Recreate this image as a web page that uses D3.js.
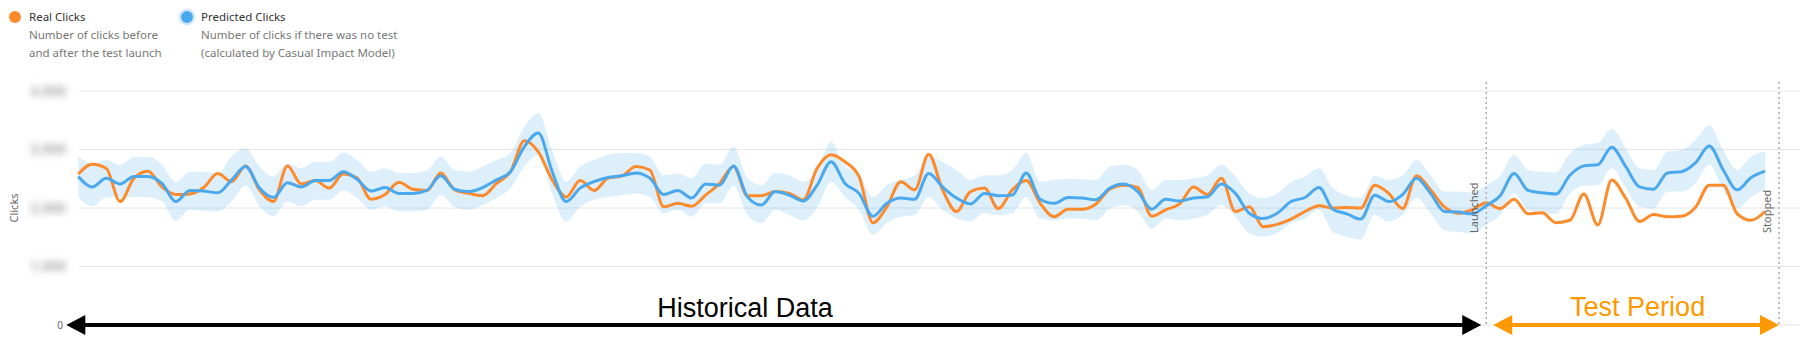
<!DOCTYPE html>
<html>
<head>
<meta charset="utf-8">
<script src="https://d3js.org/d3.v7.min.js"></script>
<style>
  body { margin: 0; background: #fff; }
  svg text { font-family: "Noto Sans", "Open Sans", sans-serif; }
</style>
</head>
<body>
<div id="chart"></div>
<script>
// data (one point per day)
var realClicks = [
  258, 275, 268, 211, 251, 263, 236, 223, 224, 235,
  259, 245, 272, 231, 211, 272, 241, 247, 234, 258,
  251, 215, 223, 244, 232, 230, 260, 231, 225, 221,
  242, 262, 315, 296, 248, 219, 247, 230, 251, 255,
  271, 265, 202, 208, 203, 222, 242, 271, 221, 221,
  228, 225, 214, 268, 291, 279, 254, 175, 202, 245,
  231, 292, 231, 194, 228, 234, 199, 231, 247, 208,
  185, 198, 198, 207, 232, 239, 235, 186, 197, 207,
  236, 223, 251, 194, 202, 168, 172, 181, 194, 204,
  200, 201, 200, 239, 225, 199, 255, 231, 202, 191,
  197, 209, 199, 215, 190, 192, 175, 179, 224, 171,
  248, 217, 177, 189, 185, 186, 201, 239, 239, 190,
  179, 194
];

var predictedClicks = [
  254, 236, 251, 241, 254, 254, 242, 211, 230, 229,
  226, 248, 271, 234, 218, 243, 236, 247, 247, 262,
  249, 229, 235, 225, 225, 230, 255, 232, 228, 235,
  248, 262, 305, 328, 262, 211, 234, 245, 252, 255,
  260, 251, 223, 230, 217, 241, 239, 272, 219, 205,
  228, 222, 212, 239, 279, 242, 225, 186, 208, 217,
  215, 259, 236, 217, 207, 225, 221, 222, 260, 215,
  208, 218, 217, 214, 234, 241, 228, 198, 215, 212,
  217, 219, 241, 225, 191, 182, 191, 211, 218, 235,
  198, 190, 181, 222, 211, 223, 251, 225, 194, 193,
  190, 204, 221, 259, 230, 226, 224, 256, 272, 274,
  304, 271, 236, 232, 260, 262, 277, 306, 265, 231,
  252, 263
];

var predictedUpper = [
  288, 276, 282, 274, 287, 287, 274, 245, 262, 262,
  259, 288, 302, 271, 254, 276, 268, 279, 279, 295,
  282, 262, 268, 260, 260, 264, 288, 265, 262, 271,
  282, 294, 339, 362, 299, 245, 271, 282, 291, 294,
  294, 288, 256, 259, 251, 276, 274, 305, 251, 239,
  260, 256, 245, 265, 313, 271, 259, 219, 239, 248,
  256, 288, 279, 265, 248, 256, 256, 265, 294, 245,
  248, 250, 249, 248, 271, 274, 265, 231, 248, 248,
  251, 256, 274, 254, 225, 217, 225, 245, 254, 268,
  234, 222, 217, 255, 248, 256, 282, 256, 228, 228,
  226, 239, 255, 291, 265, 262, 261, 293, 308, 311,
  336, 302, 268, 265, 296, 299, 316, 342, 299, 265,
  288, 296
];

var predictedLower = [
  219, 203, 218, 219, 219, 219, 211, 178, 197, 195,
  194, 211, 239, 203, 186, 211, 203, 214, 214, 230,
  217, 197, 203, 194, 194, 197, 222, 202, 197, 205,
  217, 234, 271, 291, 225, 177, 202, 214, 219, 222,
  225, 219, 191, 197, 185, 208, 208, 239, 188, 174,
  197, 188, 179, 200, 245, 219, 197, 154, 174, 185,
  188, 219, 197, 182, 177, 191, 188, 191, 219, 182,
  179, 182, 182, 179, 199, 205, 194, 165, 182, 179,
  182, 188, 205, 185, 157, 151, 157, 174, 182, 197,
  159, 151, 146, 188, 177, 188, 217, 191, 162, 159,
  157, 171, 188, 225, 197, 191, 190, 225, 238, 239,
  268, 234, 202, 199, 228, 228, 242, 274, 231, 199,
  219, 231
];

var yTickValues = [0, 100, 200, 300, 400];
var launchIndex = 101;
var stopIndex = 122;

var colors = {
  real: "#fd8b2b",
  predicted: "#4aa8ee",
  band: "#4aa8ee",
  test: "#ff9900"
};

var svgWidth = 1814;
var svgHeight = 363;

var plotLeft = 79;
var plotRight = 1800;

var svg = d3.select("#chart")
  .append("svg")
  .attr("width", svgWidth)
  .attr("height", svgHeight);

// blur for the hidden tick labels
var defs = svg.append("defs");
defs.append("filter")
  .attr("id", "blurLabel")
  .attr("x", "-50%").attr("y", "-100%")
  .attr("width", "200%").attr("height", "300%")
  .append("feGaussianBlur")
  .attr("stdDeviation", 3.5);

var xScale = d3.scaleLinear()
  .domain([0, stopIndex])
  .range([78.3, 1779]);

var yScale = d3.scaleLinear()
  .domain([0, 400])
  .range([325, 91]);

// gridlines
svg.append("g")
  .selectAll("line")
  .data(yTickValues)
  .enter()
  .append("line")
  .attr("x1", plotLeft)
  .attr("x2", plotRight)
  .attr("y1", d => yScale(d))
  .attr("y2", d => yScale(d))
  .attr("stroke", "#e6e6e6")
  .attr("stroke-width", 1);

// y tick labels (blurred in the original, only 0 is readable)
svg.append("g")
  .selectAll("text")
  .data(yTickValues.filter(d => d > 0))
  .enter()
  .append("text")
  .attr("x", 66)
  .attr("y", d => yScale(d))
  .attr("dy", "0.35em")
  .attr("text-anchor", "end")
  .attr("font-size", 14)
  .attr("font-weight", "bold")
  .attr("fill", "#aaa")
  .attr("filter", "url(#blurLabel)")
  .text(d => d3.format(",")(d * 10));

svg.append("text")
  .attr("x", 63)
  .attr("y", yScale(0))
  .attr("dy", "0.35em")
  .attr("text-anchor", "end")
  .attr("font-size", 10)
  .attr("fill", "#666")
  .text("0");

// axis title
svg.append("text")
  .attr("transform", `translate(18, ${yScale(200)}) rotate(-90)`)
  .attr("text-anchor", "middle")
  .attr("font-size", 11)
  .attr("fill", "#666")
  .text("Clicks");

// prediction band
var band = d3.area()
  .x((d, i) => xScale(i))
  .y0((d, i) => yScale(predictedLower[i]))
  .y1((d, i) => yScale(predictedUpper[i]))
  .curve(d3.curveMonotoneX);

svg.append("path")
  .datum(predictedUpper)
  .attr("d", band)
  .attr("fill", colors.band)
  .attr("fill-opacity", 0.18);

var line = d3.line()
  .x((d, i) => xScale(i))
  .y(d => yScale(d))
  .curve(d3.curveMonotoneX);

svg.append("path")
  .datum(realClicks)
  .attr("d", line)
  .attr("fill", "none")
  .attr("stroke", colors.real)
  .attr("stroke-width", 3)
  .attr("stroke-linejoin", "round");

svg.append("path")
  .datum(predictedClicks)
  .attr("d", line)
  .attr("fill", "none")
  .attr("stroke", colors.predicted)
  .attr("stroke-width", 3)
  .attr("stroke-linejoin", "round");

// launched / stopped markers
var markers = [
  { idx: launchIndex, label: "Launched" },
  { idx: stopIndex, label: "Stopped" }
];

svg.append("g")
  .selectAll("line")
  .data(markers)
  .enter()
  .append("line")
  .attr("x1", d => xScale(d.idx))
  .attr("x2", d => xScale(d.idx))
  .attr("y1", 82)
  .attr("y2", yScale(0))
  .attr("stroke", "#aaa")
  .attr("stroke-width", 1.5)
  .attr("stroke-dasharray", "2,3");

svg.append("g")
  .selectAll("text")
  .data(markers)
  .enter()
  .append("text")
  .attr("transform", d => `translate(${xScale(d.idx) - 8}, 233) rotate(-90)`)
  .attr("font-size", 11)
  .attr("fill", "#666")
  .text(d => d.label);

// period arrows
function drawArrow(x1, x2, y, color) {
  var head = 19, half = 10;
  svg.append("line")
    .attr("x1", x1 + head - 1)
    .attr("x2", x2 - head + 1)
    .attr("y1", y)
    .attr("y2", y)
    .attr("stroke", color)
    .attr("stroke-width", 4);
  svg.append("path")
    .attr("d", `M${x1},${y}L${x1 + head},${y - half}L${x1 + head},${y + half}Z`)
    .attr("fill", color);
  svg.append("path")
    .attr("d", `M${x2},${y}L${x2 - head},${y - half}L${x2 - head},${y + half}Z`)
    .attr("fill", color);
}

var arrowY = yScale(0);
drawArrow(xScale(0) - 12, xScale(launchIndex) - 5, arrowY, "#000");
drawArrow(xScale(launchIndex) + 7, xScale(stopIndex), arrowY, colors.test);

svg.append("text")
  .attr("x", 745)
  .attr("y", arrowY - 8)
  .attr("text-anchor", "middle")
  .style("font-family", "'Liberation Sans', Arial, sans-serif")
  .attr("font-size", 27)
  .attr("fill", "#000")
  .text("Historical Data");

svg.append("text")
  .attr("x", (xScale(launchIndex) + xScale(stopIndex)) / 2 + 5)
  .attr("y", arrowY - 9)
  .attr("text-anchor", "middle")
  .style("font-family", "'Liberation Sans', Arial, sans-serif")
  .attr("font-size", 27)
  .attr("fill", colors.test)
  .text("Test Period");

// legend
var legendItems = [
  { x: 15, color: colors.real, halo: false, title: "Real Clicks",
    lines: ["Number of clicks before", "and after the test launch"] },
  { x: 187, color: colors.predicted, halo: true, title: "Predicted Clicks",
    lines: ["Number of clicks if there was no test", "(calculated by Casual Impact Model)"] }
];

var legend = svg.append("g")
  .selectAll("g")
  .data(legendItems)
  .enter()
  .append("g")
  .attr("transform", d => `translate(${d.x}, 17)`);

legend.filter(d => d.halo)
  .append("circle")
  .attr("r", 8.5)
  .attr("fill", "#d3e8fa");

legend.append("circle")
  .attr("r", 6)
  .attr("fill", d => d.color);

legend.append("text")
  .attr("x", 14)
  .attr("y", 4)
  .attr("font-size", 11.5)
  .attr("fill", "#333")
  .text(d => d.title);

legend.each(function(d) {
  d3.select(this).selectAll("text.sub")
    .data(d.lines)
    .enter()
    .append("text")
    .attr("class", "sub")
    .attr("x", 14)
    .attr("y", (t, i) => 22 + i * 18)
    .attr("font-size", 11.5)
    .attr("fill", "#777")
    .text(t => t);
});
</script>
</body>
</html>
